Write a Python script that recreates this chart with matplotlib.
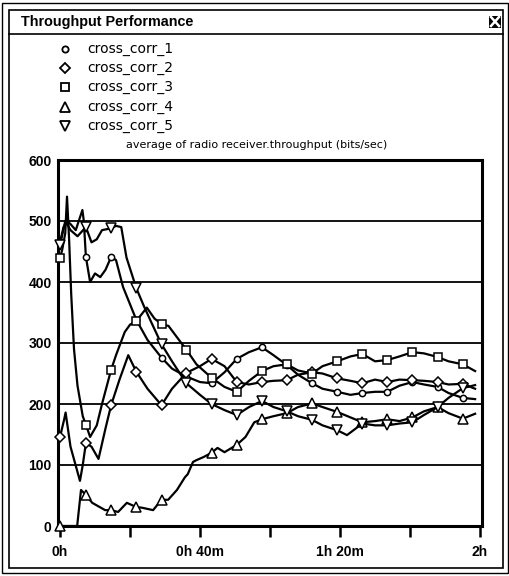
import numpy as np
import matplotlib
matplotlib.use("Agg")
import matplotlib.pyplot as plt
from matplotlib.lines import Line2D
from matplotlib.patches import Rectangle

# sample times (minutes) where a marker is drawn on every trace
MARK_T = [0, 7.4, 14.6, 21.8, 29.0, 36.1, 43.3, 50.5, 57.7, 64.8, 72.0,
          79.2, 86.4, 93.5, 100.7, 107.9, 115.1]

cc1_t = [0, 1, 2, 3, 4.5, 6.4, 6.8, 7.4, 8.6, 10, 11.5, 13, 14.6, 16, 18,
         21.8, 25, 29.0, 32, 36.1, 40, 43.3, 47, 50.5, 54, 57.7, 61, 64.8,
         68, 72.0, 75, 79.2, 83, 86.4, 90, 93.5, 97, 100.7, 104, 107.9, 111,
         115.1, 118.6]
cc1_v = [465, 490, 500, 495, 485, 518, 500, 441, 400, 414, 408, 420, 441,
         436, 392, 338, 305, 276, 258, 245, 236, 234, 252, 274, 285, 293,
         280, 264, 248, 234, 225, 220, 215, 218, 220, 220, 230, 236, 232,
         228, 218, 210, 208]

cc2_t = [0, 1.2, 1.6, 3, 5.7, 6.5, 7.4, 9, 11, 13, 14.6, 17, 19.5, 21.8, 25,
         29.0, 32, 36.1, 40, 43.3, 47, 50.5, 54, 57.7, 61, 64.8, 68, 72.0,
         75, 79.2, 83, 86.4, 90, 93.5, 97, 100.7, 104, 107.9, 111, 115.1,
         118.6]
cc2_v = [146, 175, 186, 130, 74, 100, 136, 130, 110, 160, 198, 240, 280,
         253, 225, 198, 225, 251, 262, 274, 262, 236, 232, 236, 238, 239,
         248, 252, 250, 242, 238, 234, 240, 236, 240, 239, 238, 236, 232,
         233, 225]

cc3_t = [0, 0.6, 1.5, 2.0, 2.6, 3.2, 4.0, 5.0, 6.5, 7.4, 8.6, 10.5, 12, 14.6,
         16, 18.5, 20, 21.8, 24.8, 27, 29.0, 31, 34, 36.1, 39, 43.3, 47,
         50.5, 54, 57.7, 61, 64.8, 68, 72.0, 75, 79.2, 83, 86.4, 90, 93.5,
         97, 100.7, 104, 107.9, 111, 115.1, 118.6]
cc3_v = [440, 452, 480, 540, 470, 380, 290, 230, 180, 166, 146, 165, 200,
         256, 280, 318, 330, 336, 358, 340, 331, 328, 305, 289, 265, 243,
         228, 220, 238, 254, 262, 265, 255, 250, 262, 270, 278, 282, 270,
         272, 278, 285, 283, 277, 270, 265, 254]

cc4_t = [0, 4.9, 6.0, 7.4, 9.2, 12.9, 14.6, 16.6, 19.1, 21.8, 23.4, 26.6,
         29.0, 30.9, 33.4, 35.7, 36.5, 38.0, 39, 41, 43.3, 45, 47, 50.5, 53,
         55.5, 57.7, 61, 64.8, 68, 72.0, 75, 79.2, 83, 86.4, 90, 93.5, 97,
         100.7, 104, 107.9, 111, 115.1, 118.6]
cc4_v = [0, 0, 59, 51, 38, 26, 26, 23, 38, 31, 30, 26, 43, 43, 59, 80, 85,
         105, 108, 113, 120, 128, 121, 133, 146, 170, 175, 180, 185, 195,
         201, 195, 187, 178, 170, 172, 175, 172, 178, 188, 195, 185, 176,
         184]

cc5_t = [0, 1.5, 3, 5, 7.4, 9, 10.5, 12, 14.6, 16, 17.5, 19, 21.8, 24, 26,
         29.0, 32, 36.1, 40, 43.3, 47, 50.5, 54, 57.7, 61, 64.8, 68, 72.0,
         75, 79.2, 82, 86.4, 90, 93.5, 97, 100.7, 104, 107.9, 111, 115.1,
         118.6]
cc5_v = [460, 500, 485, 475, 490, 465, 470, 485, 488, 492, 490, 440, 390,
         360, 335, 298, 270, 234, 215, 200, 190, 182, 195, 205, 195, 188,
         180, 174, 165, 157, 149, 168, 165, 165, 168, 170, 182, 195, 210,
         226, 231]

labels = ["cross_corr_1", "cross_corr_2", "cross_corr_3", "cross_corr_4",
          "cross_corr_5"]
series = [(cc1_t, cc1_v), (cc2_t, cc2_v), (cc3_t, cc3_v), (cc4_t, cc4_v),
          (cc5_t, cc5_v)]
markers = ["o", "D", "s", "^", "v"]
msizes = [4.5, 5.5, 5.5, 6.5, 6.5]

W, H = 510, 576
fig = plt.figure(figsize=(W / 100, H / 100), dpi=100)


def fx(px):
    return px / W


def fy(py):
    return 1 - py / H


# window frame and title bar
for x0, y0, x1, y1, lw in [(2, 3, 508, 573, 1.0), (9, 10, 503, 568, 1.2)]:
    fig.add_artist(Rectangle((fx(x0), fy(y1)), fx(x1 - x0), (y1 - y0) / H,
                             transform=fig.transFigure, fill=False,
                             edgecolor="black", linewidth=lw))
fig.add_artist(Line2D([fx(9), fx(503)], [fy(34), fy(34)],
                      transform=fig.transFigure, color="black", lw=1.2))
fig.text(fx(21), fy(22), "Throughput Performance", fontsize=10.4,
         fontweight="bold", family="Liberation Sans", va="center")
fig.add_artist(Rectangle((fx(489), fy(28)), fx(12), 12 / H,
                         transform=fig.transFigure, facecolor="black"))
fig.add_artist(Line2D([fx(491), fx(499)], [fy(17), fy(26)],
                      transform=fig.transFigure, color="white", lw=1.8))
fig.add_artist(Line2D([fx(491), fx(499)], [fy(26), fy(17)],
                      transform=fig.transFigure, color="white", lw=1.8))

# legend rows
for i, (lab, m, ms) in enumerate(zip(labels, markers, msizes)):
    yy = 49 + i * 19.2
    fig.add_artist(Line2D([fx(65)], [fy(yy)], transform=fig.transFigure,
                          marker=m, markersize=ms, markerfacecolor="white",
                          markeredgecolor="black", markeredgewidth=1.3,
                          linestyle="none"))
    fig.text(fx(87), fy(yy), lab, fontsize=10, family="DejaVu Sans",
             va="center")
fig.text(fx(257), fy(145), "average of radio receiver.throughput (bits/sec)",
         fontsize=8, family="DejaVu Sans", ha="center", va="center")

ax = fig.add_axes([fx(58.5), fy(526), fx(482 - 58.5), 366 / H])
for (t, v), m, ms in zip(series, markers, msizes):
    idx = list(np.nonzero(np.isin(t, MARK_T))[0])
    ax.plot(t, v, color="black", lw=1.6, marker=m, markersize=ms,
            markevery=idx, markerfacecolor="white", markeredgecolor="black",
            markeredgewidth=1.1, clip_on=False, zorder=3)

ax.set_xlim(-0.43, 120.57)
ax.set_ylim(0, 600)
ax.set_yticks([0, 100, 200, 300, 400, 500, 600])
ax.set_xticks([0, 40, 80, 120])
ax.set_xticklabels(["0h", "0h 40m", "1h 20m", "2h"])
ax.set_xticks([20, 60, 100], minor=True)
for yv in [100, 200, 300, 400, 500]:
    ax.axhline(yv, color="black", lw=1.3, zorder=1)
for s in ax.spines.values():
    s.set_linewidth(2.2)
ax.tick_params(axis="y", length=0, pad=5)
ax.tick_params(axis="x", which="both", direction="out", length=8, width=1.8,
               pad=6)
for lab in ax.get_xticklabels() + ax.get_yticklabels():
    lab.set_family("Liberation Sans")
    lab.set_fontweight("bold")
    lab.set_fontsize(10)

fig.savefig("out.png", dpi=100)
